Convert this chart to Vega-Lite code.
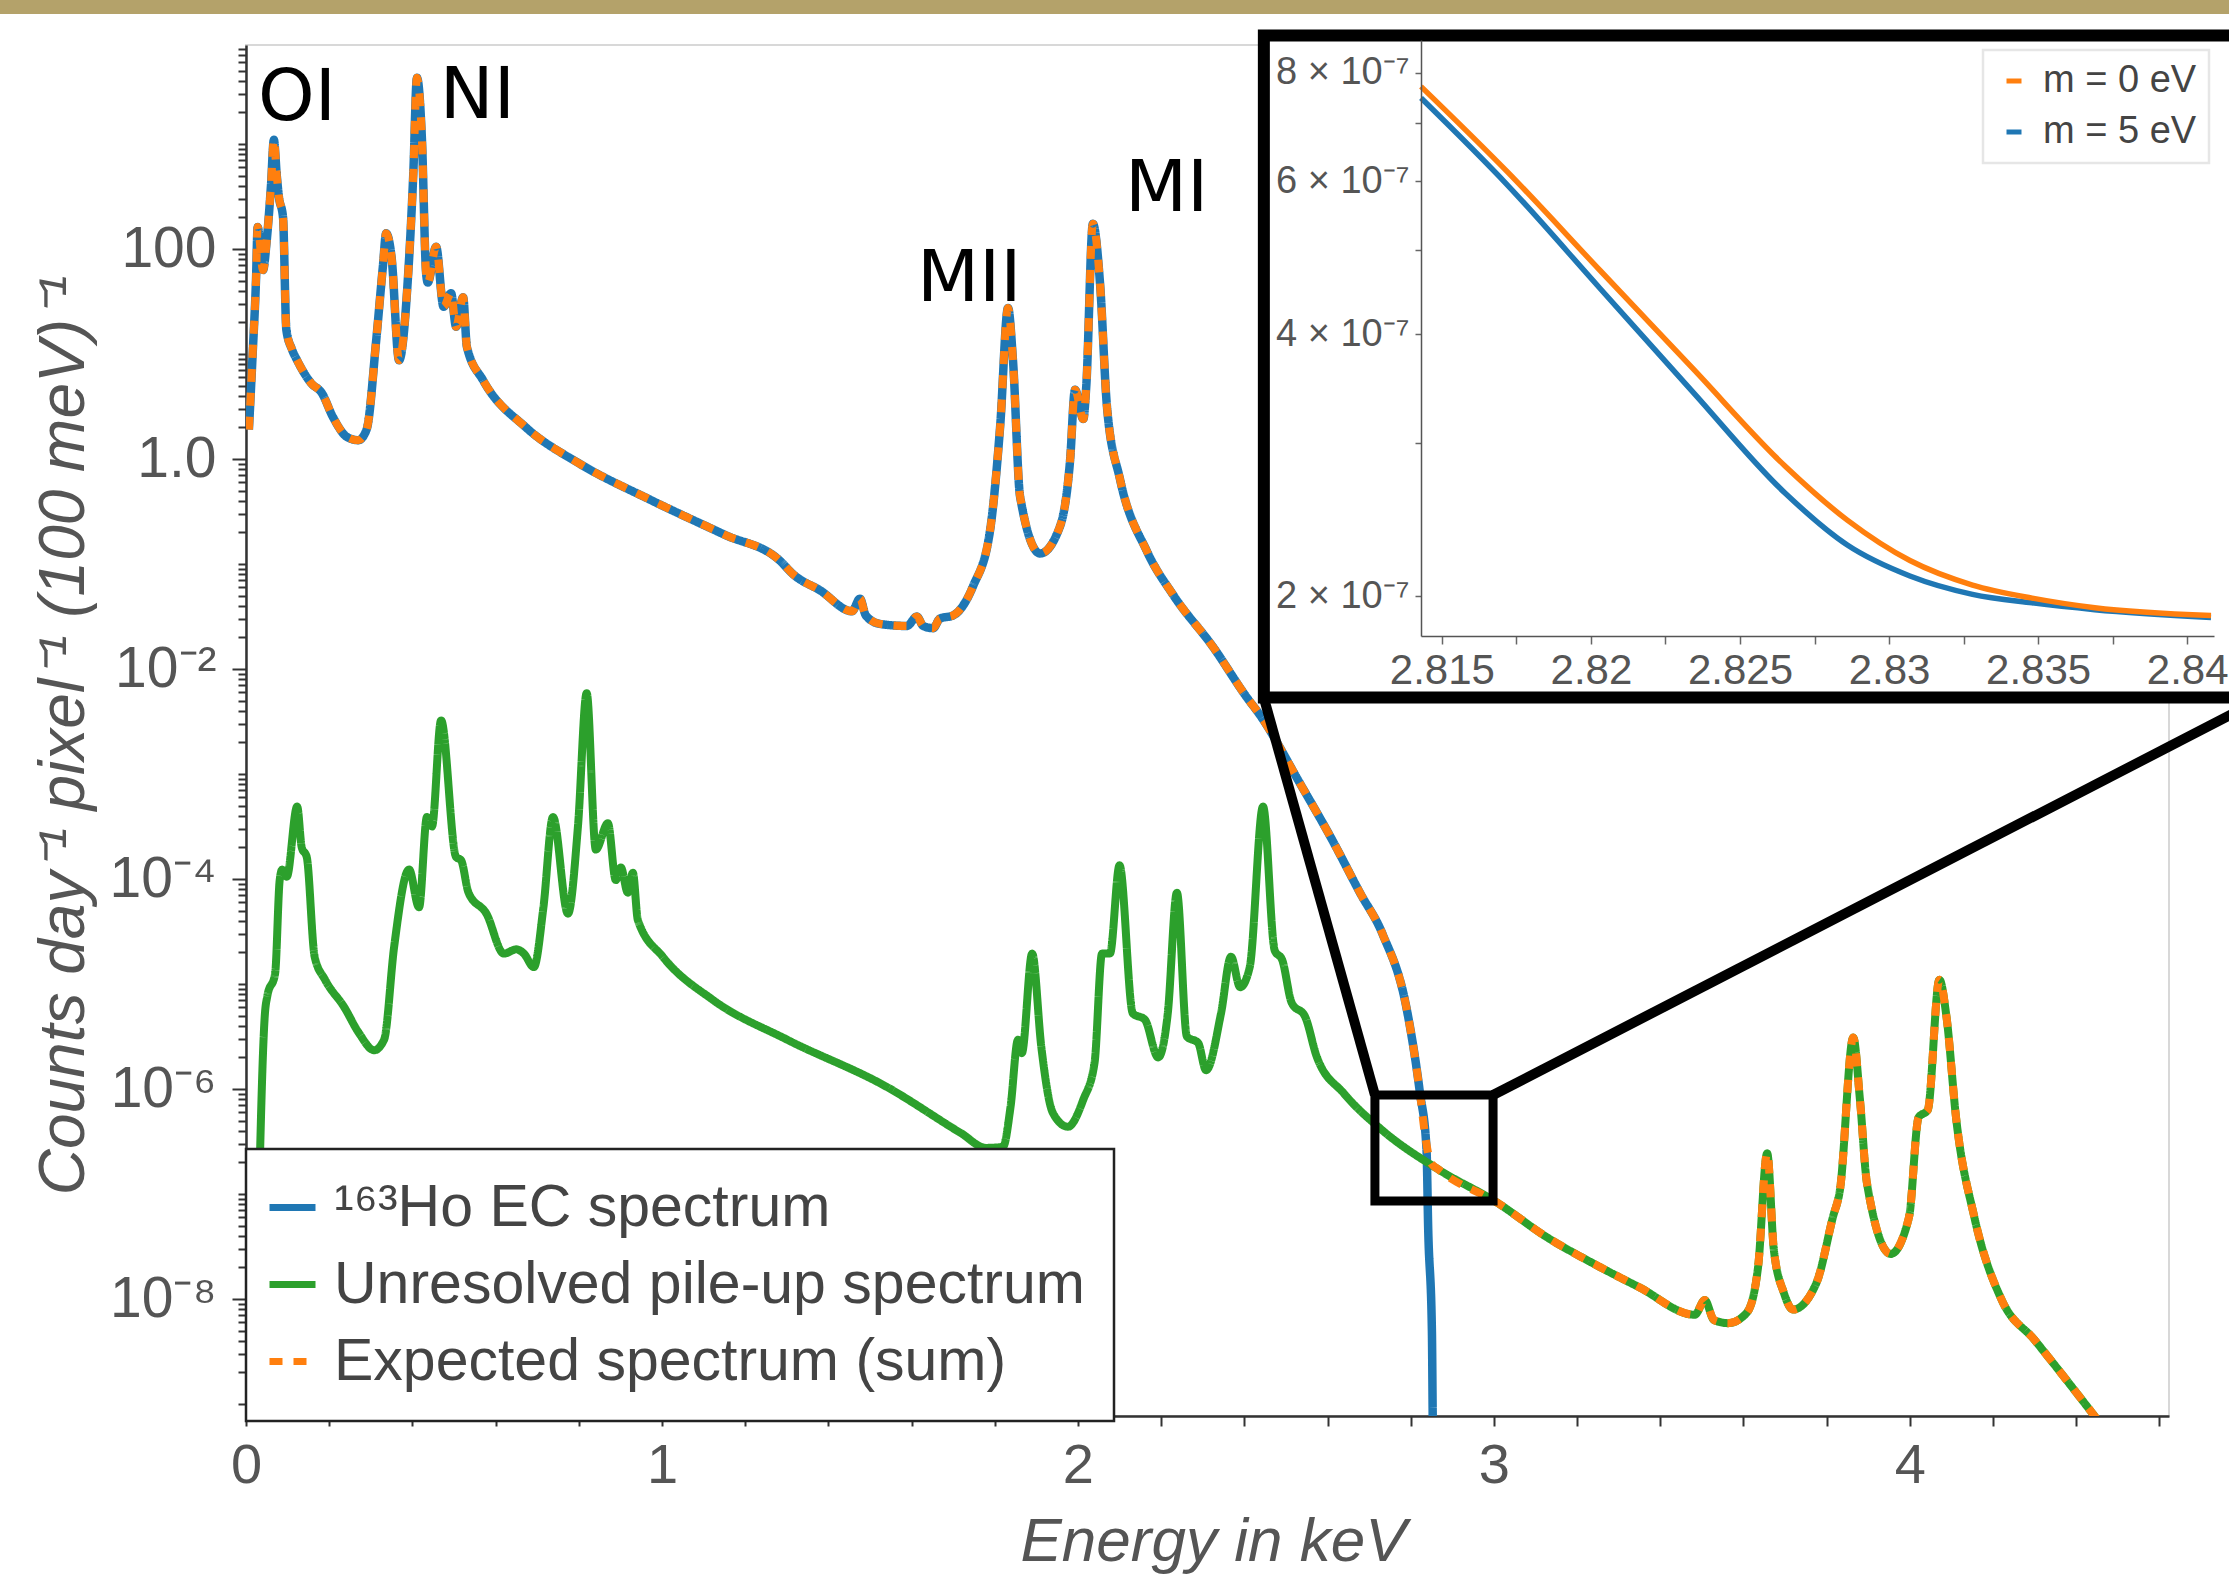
{
  "$schema": "https://vega.github.io/schema/vega-lite/v6.json",
  "width": 1923,
  "height": 1371,
  "autosize": "none",
  "padding": {"left": 246, "top": 45, "right": 60, "bottom": 162},
  "background": "white",
  "config": {
    "font": "Liberation Sans",
    "view": {"stroke": "#d8d8d8", "strokeWidth": 2},
    "axis": {"grid": false},
    "legend": {"strokeWidth": 2.5}
  },
  "datasets": {
    "ec": [{"e":0.007,"v":1.905},{"e":0.016,"v":10},{"e":0.024,"v":50.1},{"e":0.028,"v":162},{"e":0.041,"v":63.1},{"e":0.05,"v":123},{"e":0.06,"v":398},{"e":0.067,"v":1096},{"e":0.074,"v":501},{"e":0.079,"v":316},{"e":0.089,"v":200},{"e":0.097,"v":17},{"e":0.11,"v":11.2},{"e":0.123,"v":8.71},{"e":0.157,"v":5.25},{"e":0.182,"v":4.27},{"e":0.209,"v":2.51},{"e":0.243,"v":1.62},{"e":0.27,"v":1.51},{"e":0.29,"v":1.91},{"e":0.313,"v":13.5},{"e":0.329,"v":67.6},{"e":0.337,"v":141},{"e":0.35,"v":83.2},{"e":0.368,"v":8.71},{"e":0.39,"v":58.9},{"e":0.402,"v":501},{"e":0.411,"v":4266},{"e":0.423,"v":1096},{"e":0.433,"v":58.9},{"e":0.437,"v":47.9},{"e":0.457,"v":105},{"e":0.475,"v":28.2},{"e":0.493,"v":38},{"e":0.505,"v":18.2},{"e":0.522,"v":34.7},{"e":0.531,"v":11.75},{"e":0.57,"v":5.62},{"e":0.673,"v":2.0},{"e":0.8,"v":0.912},{"e":0.973,"v":0.407},{"e":1.15,"v":0.1905},{"e":1.284,"v":0.1072},{"e":1.316,"v":0.0794},{"e":1.38,"v":0.0562},{"e":1.457,"v":0.0355},{"e":1.476,"v":0.0468},{"e":1.49,"v":0.0324},{"e":1.524,"v":0.0269},{"e":1.589,"v":0.0257},{"e":1.613,"v":0.0316},{"e":1.628,"v":0.0257},{"e":1.652,"v":0.0245},{"e":1.668,"v":0.0302},{"e":1.7,"v":0.0324},{"e":1.748,"v":0.0617},{"e":1.788,"v":0.1995},{"e":1.813,"v":2.04},{"e":1.832,"v":27.5},{"e":1.844,"v":8.51},{"e":1.861,"v":0.437},{"e":1.909,"v":0.126},{"e":1.957,"v":0.229},{"e":1.981,"v":0.955},{"e":1.993,"v":4.57},{"e":2.013,"v":2.4},{"e":2.02,"v":4.9},{"e":2.036,"v":174},{"e":2.053,"v":47.9},{"e":2.07,"v":3.09},{"e":2.101,"v":0.646},{"e":2.166,"v":0.132},{"e":2.23,"v":0.0501},{"e":2.325,"v":0.0162},{"e":2.406,"v":0.00537},{"e":2.438,"v":0.00363},{"e":2.534,"v":0.000813},{"e":2.613,"v":0.000229},{"e":2.678,"v":0.0000741},{"e":2.733,"v":0.0000295},{"e":2.79,"v":0.00000589},{"e":2.822,"v":9.33e-7},{"e":2.838,"v":2.69e-7},{"e":2.842,"v":4.79e-8},{"e":2.851,"v":4.9e-9},{"e":2.853,"v":7.08e-10},{"e":2.855,"v":1.58e-10}],
    "pile": [{"e":0.02,"v":2.51e-10},{"e":0.034,"v":2.63e-7},{"e":0.045,"v":4.9e-6},{"e":0.051,"v":7.59e-6},{"e":0.07,"v":1.26e-5},{"e":0.081,"v":9.77e-5},{"e":0.087,"v":1.23e-4},{"e":0.098,"v":1.05e-4},{"e":0.123,"v":4.9e-4},{"e":0.134,"v":2.0e-4},{"e":0.146,"v":1.62e-4},{"e":0.165,"v":1.82e-5},{"e":0.19,"v":1.1e-5},{"e":0.236,"v":6.03e-6},{"e":0.272,"v":3.39e-6},{"e":0.308,"v":2.34e-6},{"e":0.332,"v":2.95e-6},{"e":0.356,"v":2.24e-5},{"e":0.392,"v":1.23e-4},{"e":0.416,"v":5.37e-5},{"e":0.435,"v":3.89e-4},{"e":0.447,"v":3.16e-4},{"e":0.469,"v":3.24e-3},{"e":0.505,"v":1.62e-4},{"e":0.517,"v":1.51e-4},{"e":0.535,"v":7.41e-5},{"e":0.578,"v":4.68e-5},{"e":0.62,"v":1.95e-5},{"e":0.65,"v":2.14e-5},{"e":0.668,"v":1.95e-5},{"e":0.692,"v":1.45e-5},{"e":0.715,"v":5.37e-5},{"e":0.738,"v":3.89e-4},{"e":0.774,"v":4.68e-5},{"e":0.798,"v":3.16e-4},{"e":0.819,"v":5.89e-3},{"e":0.841,"v":1.91e-4},{"e":0.87,"v":3.39e-4},{"e":0.889,"v":9.77e-5},{"e":0.901,"v":1.29e-4},{"e":0.918,"v":7.41e-5},{"e":0.93,"v":1.15e-4},{"e":0.942,"v":4.07e-5},{"e":1.002,"v":1.82e-5},{"e":1.122,"v":7.08e-6},{"e":1.301,"v":2.95e-6},{"e":1.54,"v":1.05e-6},{"e":1.719,"v":3.8e-7},{"e":1.779,"v":2.75e-7},{"e":1.82,"v":2.82e-7},{"e":1.838,"v":6.76e-7},{"e":1.856,"v":2.95e-6},{"e":1.865,"v":2.19e-6},{"e":1.89,"v":1.95e-5},{"e":1.912,"v":2.51e-6},{"e":1.94,"v":5.89e-7},{"e":1.976,"v":4.37e-7},{"e":2.013,"v":7.94e-7},{"e":2.04,"v":1.78e-6},{"e":2.058,"v":1.95e-5},{"e":2.077,"v":1.95e-5},{"e":2.1,"v":1.35e-4},{"e":2.132,"v":5.25e-6},{"e":2.161,"v":4.57e-6},{"e":2.193,"v":2.0e-6},{"e":2.216,"v":5.25e-6},{"e":2.238,"v":7.41e-5},{"e":2.262,"v":3.16e-6},{"e":2.289,"v":2.75e-6},{"e":2.308,"v":1.51e-6},{"e":2.344,"v":5.25e-6},{"e":2.368,"v":1.82e-5},{"e":2.39,"v":9.33e-6},{"e":2.413,"v":1.45e-5},{"e":2.445,"v":4.9e-4},{"e":2.473,"v":2.09e-5},{"e":2.491,"v":1.7e-5},{"e":2.514,"v":6.61e-6},{"e":2.546,"v":4.9e-6},{"e":2.574,"v":2.04e-6},{"e":2.639,"v":9.12e-7},{"e":2.731,"v":4.07e-7},{"e":2.868,"v":1.7e-7},{"e":3.007,"v":8.32e-8},{"e":3.127,"v":3.89e-8},{"e":3.238,"v":2.19e-8},{"e":3.35,"v":1.29e-8},{"e":3.483,"v":7.08e-9},{"e":3.507,"v":9.77e-9},{"e":3.529,"v":6.31e-9},{"e":3.563,"v":5.89e-9},{"e":3.608,"v":7.41e-9},{"e":3.635,"v":2.0e-8},{"e":3.657,"v":2.45e-7},{"e":3.673,"v":2.95e-8},{"e":3.697,"v":1.15e-8},{"e":3.719,"v":7.94e-9},{"e":3.775,"v":1.41e-8},{"e":3.815,"v":6.03e-8},{"e":3.832,"v":1.1e-7},{"e":3.864,"v":3.09e-6},{"e":3.88,"v":7.94e-7},{"e":3.897,"v":1.26e-7},{"e":3.954,"v":2.69e-8},{"e":3.998,"v":6.03e-8},{"e":4.021,"v":5.37e-7},{"e":4.043,"v":6.31e-7},{"e":4.071,"v":1.1e-5},{"e":4.088,"v":4.9e-6},{"e":4.111,"v":5.37e-7},{"e":4.155,"v":6.03e-8},{"e":4.221,"v":9.77e-9},{"e":4.3,"v":4.07e-9},{"e":4.445,"v":7.59e-10},{"e":4.48,"v":5.01e-10}],
    "sum": [{"e":0.007,"v":1.905},{"e":0.016,"v":10},{"e":0.024,"v":50.1},{"e":0.028,"v":162},{"e":0.041,"v":63.1},{"e":0.05,"v":123},{"e":0.06,"v":398},{"e":0.067,"v":1096},{"e":0.074,"v":501},{"e":0.079,"v":316},{"e":0.089,"v":200},{"e":0.097,"v":17},{"e":0.11,"v":11.2},{"e":0.123,"v":8.71},{"e":0.157,"v":5.25},{"e":0.182,"v":4.27},{"e":0.209,"v":2.51},{"e":0.243,"v":1.62},{"e":0.27,"v":1.51},{"e":0.29,"v":1.91},{"e":0.313,"v":13.5},{"e":0.329,"v":67.6},{"e":0.337,"v":141},{"e":0.35,"v":83.2},{"e":0.368,"v":8.71},{"e":0.39,"v":58.9},{"e":0.402,"v":501},{"e":0.411,"v":4266},{"e":0.423,"v":1096},{"e":0.433,"v":58.9},{"e":0.437,"v":47.9},{"e":0.457,"v":105},{"e":0.475,"v":28.2},{"e":0.493,"v":38},{"e":0.505,"v":18.2},{"e":0.522,"v":34.7},{"e":0.531,"v":11.75},{"e":0.57,"v":5.62},{"e":0.673,"v":2.0},{"e":0.8,"v":0.912},{"e":0.973,"v":0.407},{"e":1.15,"v":0.1905},{"e":1.284,"v":0.1072},{"e":1.316,"v":0.0794},{"e":1.38,"v":0.0562},{"e":1.457,"v":0.0355},{"e":1.476,"v":0.0468},{"e":1.49,"v":0.0324},{"e":1.524,"v":0.0269},{"e":1.589,"v":0.0257},{"e":1.613,"v":0.0316},{"e":1.628,"v":0.0257},{"e":1.652,"v":0.0245},{"e":1.668,"v":0.0302},{"e":1.7,"v":0.0324},{"e":1.748,"v":0.0617},{"e":1.788,"v":0.1995},{"e":1.813,"v":2.04},{"e":1.832,"v":27.5},{"e":1.844,"v":8.51},{"e":1.861,"v":0.437},{"e":1.909,"v":0.126},{"e":1.957,"v":0.229},{"e":1.981,"v":0.955},{"e":1.993,"v":4.57},{"e":2.013,"v":2.4},{"e":2.02,"v":4.9},{"e":2.036,"v":174},{"e":2.053,"v":47.9},{"e":2.07,"v":3.09},{"e":2.101,"v":0.646},{"e":2.166,"v":0.132},{"e":2.23,"v":0.0501},{"e":2.325,"v":0.0162},{"e":2.406,"v":0.00537},{"e":2.438,"v":0.00363},{"e":2.534,"v":0.000813},{"e":2.613,"v":0.000229},{"e":2.678,"v":0.0000741},{"e":2.733,"v":0.0000295},{"e":2.79,"v":0.00000589},{"e":2.822,"v":9.33e-7},{"e":2.835,"v":3.55e-7},{"e":2.848,"v":2.0e-7},{"e":2.868,"v":1.7e-7},{"e":3.007,"v":8.32e-8},{"e":3.127,"v":3.89e-8},{"e":3.238,"v":2.19e-8},{"e":3.35,"v":1.29e-8},{"e":3.483,"v":7.08e-9},{"e":3.507,"v":9.77e-9},{"e":3.529,"v":6.31e-9},{"e":3.563,"v":5.89e-9},{"e":3.608,"v":7.41e-9},{"e":3.635,"v":2.0e-8},{"e":3.657,"v":2.45e-7},{"e":3.673,"v":2.95e-8},{"e":3.697,"v":1.15e-8},{"e":3.719,"v":7.94e-9},{"e":3.775,"v":1.41e-8},{"e":3.815,"v":6.03e-8},{"e":3.832,"v":1.1e-7},{"e":3.864,"v":3.09e-6},{"e":3.88,"v":7.94e-7},{"e":3.897,"v":1.26e-7},{"e":3.954,"v":2.69e-8},{"e":3.998,"v":6.03e-8},{"e":4.021,"v":5.37e-7},{"e":4.043,"v":6.31e-7},{"e":4.071,"v":1.1e-5},{"e":4.088,"v":4.9e-6},{"e":4.111,"v":5.37e-7},{"e":4.155,"v":6.03e-8},{"e":4.221,"v":9.77e-9},{"e":4.3,"v":4.07e-9},{"e":4.445,"v":7.59e-10},{"e":4.48,"v":5.01e-10}],
    "inset": [{"s":"m = 5 eV","e":2.8143,"v":7.48e-7},{"s":"m = 5 eV","e":2.8172,"v":5.94e-7},{"s":"m = 5 eV","e":2.8203,"v":4.52e-7},{"s":"m = 5 eV","e":2.8234,"v":3.44e-7},{"s":"m = 5 eV","e":2.8265,"v":2.63e-7},{"s":"m = 5 eV","e":2.8286,"v":2.29e-7},{"s":"m = 5 eV","e":2.8307,"v":2.11e-7},{"s":"m = 5 eV","e":2.8328,"v":2.01e-7},{"s":"m = 5 eV","e":2.8348,"v":1.965e-7},{"s":"m = 5 eV","e":2.8369,"v":1.93e-7},{"s":"m = 5 eV","e":2.8408,"v":1.89e-7},
      {"s":"m = 0 eV","e":2.8143,"v":7.71e-7},{"s":"m = 0 eV","e":2.8172,"v":6.15e-7},{"s":"m = 0 eV","e":2.8203,"v":4.74e-7},{"s":"m = 0 eV","e":2.8234,"v":3.66e-7},{"s":"m = 0 eV","e":2.8265,"v":2.825e-7},{"s":"m = 0 eV","e":2.8286,"v":2.446e-7},{"s":"m = 0 eV","e":2.8307,"v":2.198e-7},{"s":"m = 0 eV","e":2.8328,"v":2.06e-7},{"s":"m = 0 eV","e":2.8348,"v":1.99e-7},{"s":"m = 0 eV","e":2.8369,"v":1.94e-7},{"s":"m = 0 eV","e":2.8408,"v":1.9e-7}]
  },
  "layer": [
    {
      "encoding": {
        "x": {"field": "e", "type": "quantitative",
          "scale": {"domain": [0, 4.623], "nice": false, "zero": false},
          "axis": {"orient": "bottom",
            "values": [0,0.2,0.4,0.6,0.8,1,1.2,1.4,1.6,1.8,2,2.2,2.4,2.6,2.8,3,3.2,3.4,3.6,3.8,4,4.2,4.4,4.6],
            "labelExpr": "abs(datum.value - round(datum.value)) < 0.01 ? format(datum.value, 'd') : ''",
            "labelOverlap": false, "labelFlush": false,
            "labelFontSize": 56, "labelColor": "#555", "labelPadding": 12,
            "tickSize": 10, "tickWidth": 2, "tickColor": "#333",
            "domainColor": "#333", "domainWidth": 2.5,
            "title": "Energy in keV", "titleFontSize": 62, "titleFontStyle": "italic", "titleFontWeight": "normal", "titleColor": "#555",
            "titleX": 967, "titleY": 144, "titleBaseline": "alphabetic", "titleAlign": "center"}},
        "y": {"field": "v", "type": "quantitative",
          "scale": {"type": "log", "domain": [7.69e-10, 8770], "nice": false},
          "axis": {"orient": "left",
            "values": [1e-9,2e-9,3e-9,4e-9,5e-9,6e-9,7e-9,8e-9,9e-9,1e-8,2e-8,3e-8,4e-8,5e-8,6e-8,7e-8,8e-8,9e-8,1e-7,2e-7,3e-7,4e-7,5e-7,6e-7,7e-7,8e-7,9e-7,1e-6,2e-6,3e-6,4e-6,5e-6,6e-6,7e-6,8e-6,9e-6,1e-5,2e-5,3e-5,4e-5,5e-5,6e-5,7e-5,8e-5,9e-5,1e-4,2e-4,3e-4,4e-4,5e-4,6e-4,7e-4,8e-4,9e-4,0.001,0.002,0.003,0.004,0.005,0.006,0.007,0.008,0.009,0.01,0.02,0.03,0.04,0.05,0.06,0.07,0.08,0.09,0.1,0.2,0.3,0.4,0.5,0.6,0.7,0.8,0.9,1,2,3,4,5,6,7,8,9,10,20,30,40,50,60,70,80,90,100,200,300,400,500,600,700,800,900,1000,2000,3000,4000,5000,6000,7000,8000],
            "labelExpr": "abs(log(datum.value)/LN10 - round(log(datum.value)/LN10)) > 0.001 ? '' : round(log(datum.value)/LN10) == 2 ? '100' : round(log(datum.value)/LN10) == 0 ? '1.0' : round(log(datum.value)/LN10) == -2 ? '10⁻²' : round(log(datum.value)/LN10) == -4 ? '10⁻⁴' : round(log(datum.value)/LN10) == -6 ? '10⁻⁶' : round(log(datum.value)/LN10) == -8 ? '10⁻⁸' : ''",
            "labelOverlap": false,
            "labelFontSize": 57, "labelColor": "#555", "labelPadding": 16,
            "tickSize": {"condition": {"test": "abs(log(datum.value)/LN10 - round(log(datum.value)/LN10)) < 0.001 && round(log(datum.value)/LN10) % 2 == 0", "value": 14}, "value": 8},
            "tickWidth": 2, "tickColor": "#333",
            "domainColor": "#333", "domainWidth": 2.5,
            "title": "Counts day⁻¹ pixel⁻¹ (100 meV)⁻¹", "titleFontSize": 64, "titleFontStyle": "italic", "titleFontWeight": "normal", "titleColor": "#555",
            "titleX": -163, "titleY": 690, "titleBaseline": "alphabetic", "titleAngle": 270, "titleAlign": "center"}}
      },
      "layer": [
        {
          "data": {"values": [{"e": -1, "e2": 6, "v": 30000, "v2": 17300}]},
          "mark": {"type": "rect", "color": "#b4a26a", "clip": false},
          "encoding": {"x2": {"field": "e2"}, "y2": {"field": "v2"}}
        },
        {
          "data": {"name": "ec"},
          "mark": {"type": "line", "strokeWidth": 8.5, "clip": true, "strokeJoin": "round", "interpolate": "monotone"},
          "encoding": {
            "color": {"datum": "¹⁶³Ho EC spectrum", "type": "nominal",
              "scale": {"domain": ["¹⁶³Ho EC spectrum", "Unresolved pile-up spectrum", "Expected spectrum (sum)"], "range": ["#1f77b4", "#2ca02c", "#ff7f0e"]},
              "legend": {"title": null, "orient": "none", "legendX": 0, "legendY": 1104, "padding": 29, "rowPadding": 17, "labelFontSize": 59, "labelColor": "#444", "labelLimit": 2000, "labelOffset": 12, "symbolOffset": -12, "symbolType": "stroke", "symbolSize": 2116, "symbolStrokeWidth": 7, "strokeColor": "#222", "fillColor": "white"}},
            "strokeDash": {"datum": "¹⁶³Ho EC spectrum", "type": "nominal",
              "scale": {"domain": ["¹⁶³Ho EC spectrum", "Unresolved pile-up spectrum", "Expected spectrum (sum)"], "range": [[1, 0], [1, 0], [13, 11]]},
              "legend": {"title": null, "orient": "none", "legendX": 0, "legendY": 1104, "padding": 29, "rowPadding": 17, "labelFontSize": 59, "labelColor": "#444", "labelLimit": 2000, "labelOffset": 12, "symbolOffset": -12, "symbolType": "stroke", "symbolSize": 2116, "symbolStrokeWidth": 7, "strokeColor": "#222", "fillColor": "white"}}
          }
        },
        {
          "data": {"name": "pile"},
          "mark": {"type": "line", "strokeWidth": 8, "clip": true, "strokeJoin": "round", "interpolate": "monotone"},
          "encoding": {
            "color": {"datum": "Unresolved pile-up spectrum", "type": "nominal"},
            "strokeDash": {"datum": "Unresolved pile-up spectrum", "type": "nominal"}
          }
        },
        {
          "data": {"name": "sum"},
          "mark": {"type": "line", "strokeWidth": 8, "clip": true, "strokeJoin": "round", "interpolate": "monotone"},
          "encoding": {
            "color": {"datum": "Expected spectrum (sum)", "type": "nominal"},
            "strokeDash": {"datum": "Expected spectrum (sum)", "type": "nominal"}
          }
        },
        {
          "data": {"values": [{"e": 0.029, "v": 1694, "t": "OI"}, {"e": 0.466, "v": 1770, "t": "NI"}, {"e": 1.613, "v": 32.0, "t": "MII"}, {"e": 2.113, "v": 230, "t": "MI"}]},
          "mark": {"type": "text", "font": "DejaVu Sans", "fontSize": 72, "align": "left", "baseline": "alphabetic", "color": "black", "clip": false},
          "encoding": {"text": {"field": "t"}}
        },
        {
          "data": {"values": [{"e": 2.714, "e2": 2.998, "v": 8.77e-7, "v2": 8.57e-8}]},
          "mark": {"type": "rect", "filled": false, "color": "black", "strokeWidth": 9, "clip": false},
          "encoding": {"x2": {"field": "e2"}, "y2": {"field": "v2"}}
        },
        {
          "data": {"values": [{"e": 2.447, "v": 0.005297, "e2": 2.714, "v2": 8.77e-7}, {"e": 4.85, "v": 0.005297, "e2": 2.998, "v2": 8.77e-7}]},
          "mark": {"type": "rule", "color": "black", "strokeWidth": 10, "clip": false},
          "encoding": {"x2": {"field": "e2"}, "y2": {"field": "v2"}}
        },
        {
          "data": {"values": [{"e": 2.447, "e2": 4.85, "v": 10790, "v2": 0.00536}]},
          "mark": {"type": "rect", "fill": "white", "stroke": "black", "strokeWidth": 12, "clip": false},
          "encoding": {"x2": {"field": "e2"}, "y2": {"field": "v2"}}
        }
      ]
    },
    {
      "data": {"name": "inset"},
      "mark": {"type": "line", "strokeWidth": 5.5, "interpolate": "monotone"},
      "encoding": {
        "x": {"field": "e", "type": "quantitative",
          "scale": {"domain": [2.8143, 2.8409], "range": [1175, 1968], "nice": false, "zero": false},
          "axis": {"orient": "bottom", "offset": -780, "zindex": 2,
            "values": [2.815, 2.8175, 2.82, 2.8225, 2.825, 2.8275, 2.83, 2.8325, 2.835, 2.8375, 2.84],
            "labelExpr": "abs(datum.value*200 - round(datum.value*200)) < 0.01 ? format(datum.value, '.3~f') : ''",
            "labelOverlap": false, "labelFlush": false,
            "labelFontSize": 42, "labelColor": "#555", "labelPadding": 6,
            "tickSize": 8, "tickWidth": 1.5, "tickColor": "#666",
            "domainColor": "#555", "domainWidth": 1.5, "title": null}},
        "y": {"field": "v", "type": "quantitative",
          "scale": {"type": "log", "domain": [1.8e-7, 8.72e-7], "range": [591, -5], "nice": false},
          "axis": {"orient": "left", "offset": -1175, "zindex": 2,
            "values": [2e-7, 3e-7, 4e-7, 5e-7, 6e-7, 7e-7, 8e-7],
            "labelExpr": "round(datum.value*1e7) % 2 == 0 ? round(datum.value*1e7) + ' × 10⁻⁷' : ''",
            "labelOverlap": false, "labelFlush": false,
            "labelFontSize": 38, "labelColor": "#555", "labelPadding": 6,
            "tickSize": 6, "tickWidth": 1.5, "tickColor": "#666",
            "domainColor": "#555", "domainWidth": 1.5, "title": null}},
        "color": {"field": "s", "type": "nominal",
          "scale": {"domain": ["m = 0 eV", "m = 5 eV"], "range": ["#ff7f0e", "#1f77b4"]},
          "legend": {"title": null, "orient": "none", "legendX": 1737, "legendY": 5, "padding": 12, "rowPadding": 13, "labelFontSize": 38, "labelColor": "#444", "labelLimit": 500, "labelOffset": 10, "symbolType": "stroke", "symbolSize": 225, "symbolStrokeWidth": 5, "strokeColor": "#e6e6e6", "fillColor": "white"}}
      }
    }
  ],
  "resolve": {
    "scale": {"x": "independent", "y": "independent", "color": "independent", "strokeDash": "independent"},
    "axis": {"x": "independent", "y": "independent"},
    "legend": {"color": "independent", "strokeDash": "independent"}
  }
}
